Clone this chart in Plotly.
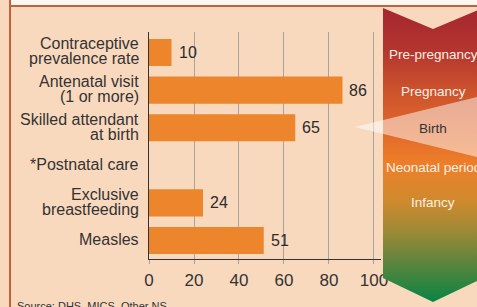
import plotly.graph_objects as go

# ---- data ----
categories = [
    "Contraceptive<br>prevalence rate",
    "Antenatal visit<br>(1 or more)",
    "Skilled attendant<br>at birth",
    "*Postnatal care",
    "Exclusive<br>breastfeeding",
    "Measles",
]
values = [10, 86, 65, None, 24, 51]
x_ticks = [0, 20, 40, 60, 80, 100]
stage_labels = ["Pre-pregnancy", "Pregnancy", "Birth", "Neonatal period", "Infancy"]
source_text = "Source: DHS, MICS, Other NS"

# ---- style ----
W, H = 477, 307
FONT = "Liberation Sans, Arial, sans-serif"
BG = "#F9D9BE"
BAR = "#EC852B"
TXT = "#333333"
GRID = "#A9A39E"
BORDER = "#C4613A"

fig = go.Figure()

fig.add_trace(go.Bar(
    x=values, y=categories, orientation="h",
    marker=dict(color=BAR, line=dict(width=0)),
    width=0.72, hoverinfo="skip", xaxis="x", yaxis="y",
))

# decorative life-cycle arrow, drawn on a pixel-coordinate overlay axis
arrow_x = [383, 433, 483, 483, 433, 383, 383]
arrow_y = [8, 29, 8, 278, 302, 278, 8]
fig.add_trace(go.Scatter(
    x=arrow_x, y=arrow_y, mode="lines", fill="toself",
    line=dict(width=0, color="rgba(0,0,0,0)"),
    fillgradient=dict(
        type="vertical", start=8, stop=302,
        colorscale=[
            [0.0, "#A5262F"],
            [0.143, "#B4352F"],
            [0.279, "#CC522D"],
            [0.415, "#E0682B"],
            [0.534, "#EE7F29"],
            [0.653, "#D08A2E"],
            [0.755, "#A08A35"],
            [0.857, "#62853C"],
            [1.0, "#088444"],
        ],
    ),
    hoverinfo="skip", xaxis="x2", yaxis="y2", showlegend=False,
))

annotations = []
# category labels (each line placed separately for tight line spacing)
for cat in categories:
    lines = cat.split("<br>")
    n = len(lines)
    for i, ln in enumerate(lines):
        annotations.append(dict(
            xref="x domain", yref="y", x=0, y=cat, xanchor="right", yanchor="middle",
            xshift=-8, yshift=((n - 1) / 2 - i) * 15 + 1,
            text=ln, showarrow=False, font=dict(family=FONT, size=16, color=TXT),
        ))
# value labels
for cat, v in zip(categories, values):
    if v is None:
        continue
    annotations.append(dict(
        xref="x", yref="y", x=v, y=cat, xanchor="left", yanchor="middle",
        xshift=5, text=str(v), showarrow=False,
        font=dict(family=FONT, size=16, color="#2B2B2B"),
    ))
# stage labels on the arrow
stage_y = [54, 91, 128, 167, 202]
for lab, sy in zip(stage_labels, stage_y):
    annotations.append(dict(
        xref="x2", yref="y2", x=433, y=sy, xanchor="center", yanchor="middle",
        text=lab, showarrow=False,
        font=dict(family=FONT, size=13.5, color=TXT if lab == "Birth" else "#FBEFE7"),
    ))
# source note
annotations.append(dict(
    xref="x2", yref="y2", x=15, y=298, xanchor="left", yanchor="top",
    text=source_text, showarrow=False, font=dict(family=FONT, size=11, color=TXT),
))

shapes = [
    dict(type="rect", xref="x2", yref="y2", x0=10, x1=477, y0=0, y1=5,
         fillcolor="#FDF8F2", line=dict(width=0), layer="above"),
    dict(type="line", xref="x2", yref="y2", x0=9, x1=477, y0=6, y1=6,
         line=dict(color=BORDER, width=2), layer="above"),
    dict(type="line", xref="x2", yref="y2", x0=10, x1=10, y0=0, y1=307,
         line=dict(color=BORDER, width=2), layer="above"),
    dict(type="path", xref="x2", yref="y2",
         path="M 355 127 L 490 93.8 L 490 160.2 Z",
         fillcolor="white", opacity=0.5, line=dict(width=0), layer="above"),
]

fig.update_layout(
    width=W, height=H, autosize=False,
    margin=dict(l=0, r=0, t=0, b=0, pad=0),
    paper_bgcolor=BG, plot_bgcolor="rgba(0,0,0,0)",
    showlegend=False,
    font=dict(family=FONT, color=TXT),
    xaxis=dict(
        domain=[149 / W, 380.5 / W], range=[0, 102.9],
        tickvals=x_ticks, ticktext=[str(t) for t in x_ticks],
        showgrid=True, gridcolor=GRID, gridwidth=1,
        showline=True, linecolor="#333333", linewidth=1.3,
        ticks="outside", ticklen=4, tickcolor=GRID, tickwidth=1,
        tickfont=dict(family=FONT, size=17, color=TXT),
        ticklabelstandoff=2,
        zeroline=False, fixedrange=True, anchor="y", automargin=False,
    ),
    yaxis=dict(
        domain=[1 - 258.5 / H, 1 - 32 / H],
        type="category", categoryorder="array", categoryarray=categories,
        range=[5.479, -0.545],
        showticklabels=False, showgrid=False, zeroline=False,
        showline=True, linecolor="#333333", linewidth=1.3,
        ticks="", fixedrange=True, anchor="x", automargin=False,
    ),
    xaxis2=dict(domain=[0, 1], range=[0, W], visible=False, fixedrange=True, anchor="y2"),
    yaxis2=dict(domain=[0, 1], range=[H, 0], visible=False, fixedrange=True, anchor="x2"),
    annotations=annotations,
    shapes=shapes,
)

fig.write_html(
    "out.html",
    config={"displayModeBar": False, "responsive": False},
    post_script=(
        "document.documentElement.style.overflow='hidden';"
        "document.documentElement.style.margin='0';"
        "document.body.style.margin='0';document.body.style.padding='0';"
        "document.body.style.overflow='hidden';"
        "document.body.style.background='" + BG + "';"
    ),
)
